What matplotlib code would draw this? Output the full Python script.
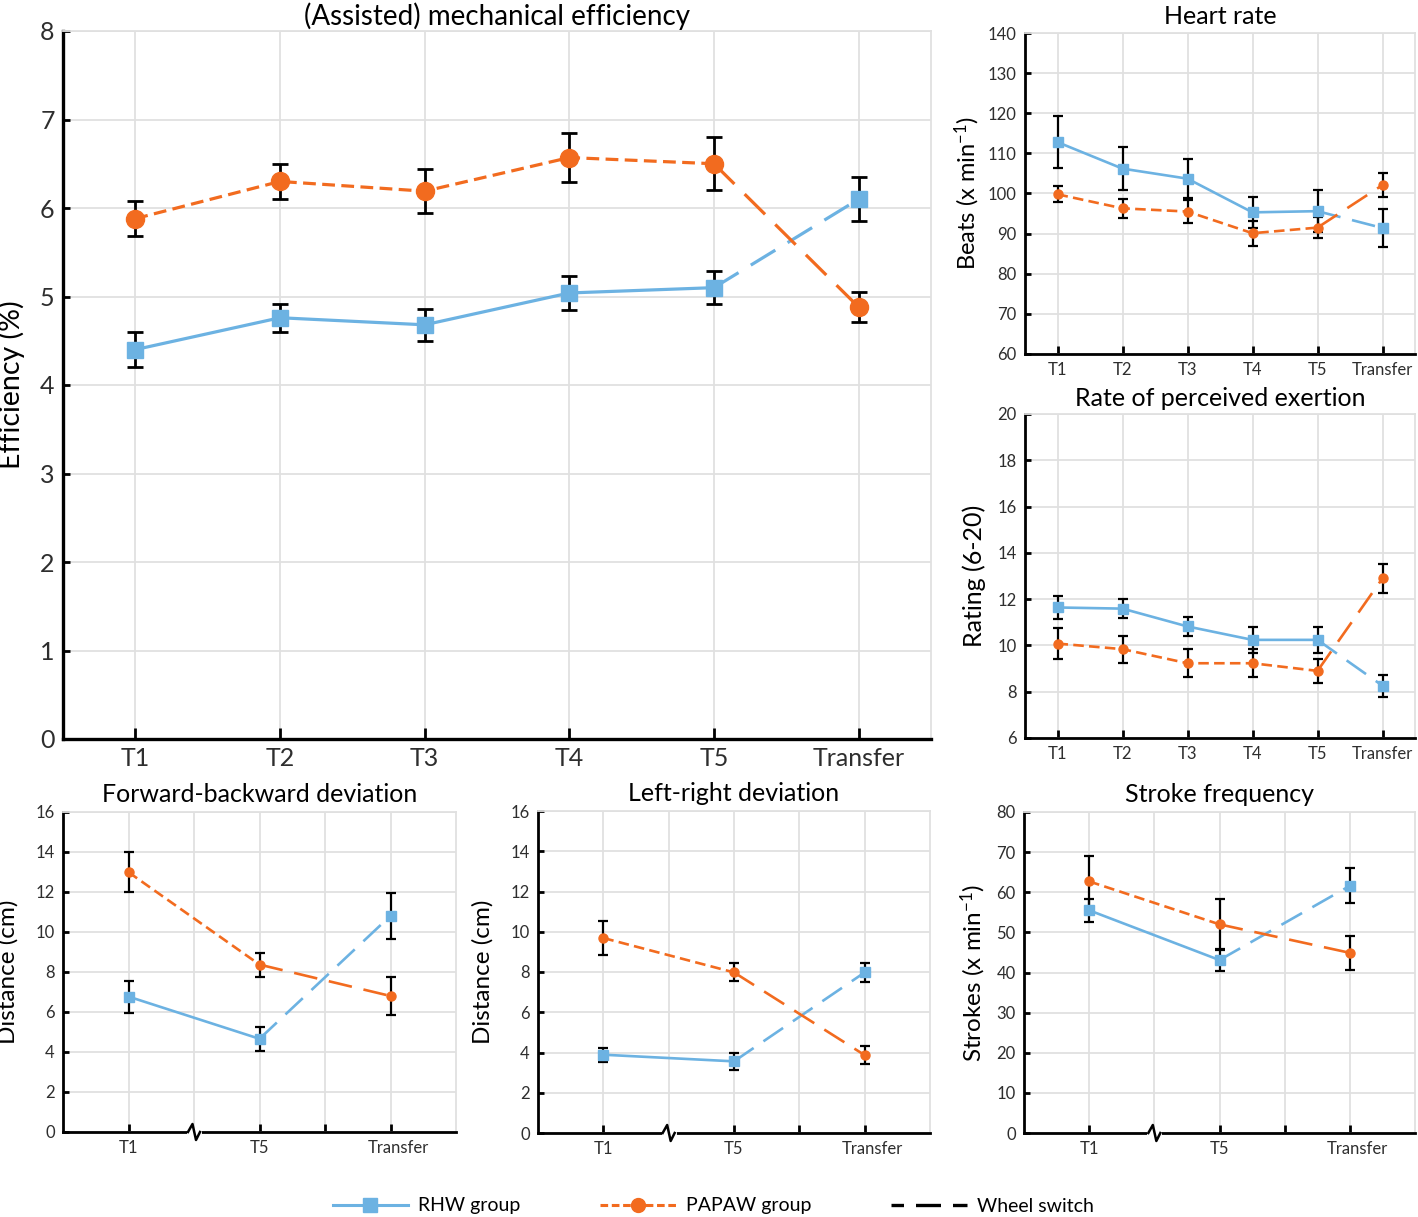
import matplotlib
matplotlib.use('Agg')
import matplotlib.pyplot as plt
import matplotlib.transforms as mtransforms
from matplotlib.lines import Line2D

plt.rcParams['font.family'] = ['Lato', 'DejaVu Sans']
plt.rcParams['mathtext.fontset'] = 'custom'
plt.rcParams['mathtext.rm'] = 'Lato'
plt.rcParams['mathtext.it'] = 'Lato:italic'

BLUE = '#6cb2e2'
ORANGE = '#f26b1f'
GRID = '#e0e0e0'
TICKCOL = '#2e2e2e'

# ---- data (mean, error) ----
sessions = ['T1', 'T2', 'T3', 'T4', 'T5', 'Transfer']
short_sessions = ['T1', 'T5', 'Transfer']

eff_rhw = [4.40, 4.76, 4.68, 5.04, 5.10, 6.10]
eff_rhw_err = [0.20, 0.16, 0.18, 0.19, 0.19, 0.25]
eff_papaw = [5.88, 6.30, 6.19, 6.57, 6.50, 4.88]
eff_papaw_err = [0.20, 0.20, 0.25, 0.28, 0.30, 0.17]

hr_rhw = [112.8, 106.2, 103.7, 95.3, 95.6, 91.4]
hr_rhw_err = [6.4, 5.4, 4.8, 3.9, 5.2, 4.7]
hr_papaw = [99.8, 96.3, 95.5, 90.1, 91.5, 102.1]
hr_papaw_err = [2.0, 2.3, 2.8, 3.1, 2.6, 2.9]

rpe_rhw = [11.64, 11.59, 10.82, 10.24, 10.24, 8.26]
rpe_rhw_err = [0.50, 0.40, 0.40, 0.55, 0.55, 0.47]
rpe_papaw = [10.08, 9.84, 9.23, 9.23, 8.90, 12.90]
rpe_papaw_err = [0.66, 0.58, 0.60, 0.60, 0.52, 0.64]

fb_rhw = [6.77, 4.66, 10.81]
fb_rhw_err = [0.80, 0.60, 1.15]
fb_papaw = [12.99, 8.37, 6.80]
fb_papaw_err = [1.00, 0.60, 0.97]

lr_rhw = [3.89, 3.56, 7.98]
lr_rhw_err = [0.35, 0.43, 0.47]
lr_papaw = [9.69, 7.98, 3.87]
lr_papaw_err = [0.83, 0.45, 0.45]

sf_rhw = [55.5, 43.1, 61.6]
sf_rhw_err = [2.9, 2.7, 4.35]
sf_papaw = [62.7, 52.0, 44.9]
sf_papaw_err = [6.3, 6.4, 4.2]

W, H = 1418, 1217
fig = plt.figure(figsize=(W / 100, H / 100), dpi=100)


def add_axes(l, t, r, b):
    return fig.add_axes([l / W, 1 - b / H, (r - l) / W, (b - t) / H])


def draw_series(ax, x, rhw, rhw_err, papaw, papaw_err, big=False):
    lw = 2.3 if big else 1.9
    ms_sq = 12 if big else 7
    ms_ci = 13 if big else 6.5
    cap = 6 if big else 3.5
    elw = 2.0 if big else 1.6
    for y, e in [(rhw, rhw_err), (papaw, papaw_err)]:
        ax.errorbar(x, y, yerr=e, fmt='none', ecolor='black', elinewidth=elw,
                    capsize=cap, capthick=elw, zorder=3, clip_on=False)
    ax.plot(x[:-1], rhw[:-1], color=BLUE, lw=lw, zorder=4)
    ax.plot(x[-2:], rhw[-2:], color=BLUE, lw=lw, dashes=(9, 4.5), zorder=4)
    ax.plot(x[:-1], papaw[:-1], color=ORANGE, lw=lw, dashes=(4, 2), zorder=4)
    ax.plot(x[-2:], papaw[-2:], color=ORANGE, lw=lw, dashes=(9, 4.5), zorder=4)
    ax.plot(x, rhw, ls='none', marker='s', ms=ms_sq, color=BLUE, zorder=5, clip_on=False)
    ax.plot(x, papaw, ls='none', marker='o', ms=ms_ci, color=ORANGE, zorder=5, clip_on=False)


def style(ax, ylim, ystep, tick_fs, big=False):
    ax.set_ylim(*ylim)
    ax.set_yticks(range(ylim[0], ylim[1] + 1, ystep))
    ax.grid(True, color=GRID, lw=1.3)
    ax.set_axisbelow(True)
    for s in ['top', 'right']:
        ax.spines[s].set_color(GRID)
        ax.spines[s].set_linewidth(1.3)
    for s in ['left', 'bottom']:
        ax.spines[s].set_linewidth(2.4 if big else 2.0)
    ax.tick_params(axis='y', direction='in', length=5 if big else 4, width=2,
                   labelsize=tick_fs, labelcolor=TICKCOL, pad=6)
    ax.tick_params(axis='x', direction='in', length=8 if big else 6, width=2,
                   labelsize=tick_fs, labelcolor=TICKCOL, pad=6)


def add_break(ax, xpos):
    pos = ax.get_position()
    xlim = ax.get_xlim()
    pxu = pos.width * W / (xlim[1] - xlim[0])
    pyu = pos.height * H
    dx = lambda p: xpos + p / pxu
    dy = lambda p: p / pyu
    tr = mtransforms.blended_transform_factory(ax.transData, ax.transAxes)
    ax.add_line(Line2D([dx(-5), dx(5)], [0, 0], color='white', lw=3.5,
                       transform=tr, clip_on=False, zorder=6))
    ax.add_line(Line2D([dx(-6), dx(-1.5), dx(2), dx(6)], [0, dy(8), dy(-8), 0],
                       color='black', lw=1.8, transform=tr, clip_on=False, zorder=7))


# ---- main panel ----
ax = add_axes(63, 31, 931, 739)
xm = list(range(len(sessions)))
draw_series(ax, xm, eff_rhw, eff_rhw_err, eff_papaw, eff_papaw_err, big=True)
ax.set_xlim(-0.5, 5.5)
ax.set_xticks(xm)
ax.set_xticklabels(sessions)
style(ax, (0, 8), 1, 18, big=True)
ax.set_ylabel('Efficiency (%)', fontsize=20.5, labelpad=11)
ax.set_title('(Assisted) mechanical efficiency', fontsize=20, pad=4)

# ---- heart rate ----
ax = add_axes(1025, 33, 1415, 354)
draw_series(ax, xm, hr_rhw, hr_rhw_err, hr_papaw, hr_papaw_err)
ax.set_xlim(-0.5, 5.5)
ax.set_xticks(xm)
ax.set_xticklabels(sessions)
style(ax, (60, 140), 10, 12)
ax.set_ylabel(r'Beats (x min$^{\mathregular{-1}}$)', fontsize=17, labelpad=4)
ax.set_title('Heart rate', fontsize=18, pad=6.5)

# ---- RPE ----
ax = add_axes(1025, 414, 1415, 738)
draw_series(ax, xm, rpe_rhw, rpe_rhw_err, rpe_papaw, rpe_papaw_err)
ax.set_xlim(-0.5, 5.5)
ax.set_xticks(xm)
ax.set_xticklabels(sessions)
style(ax, (6, 20), 2, 12)
ax.set_ylabel('Rating (6-20)', fontsize=18, labelpad=8)
ax.set_title('Rate of perceived exertion', fontsize=18, pad=5.5)

# ---- bottom panels ----
bottom = [
    ((63, 812, 456, 1132), fb_rhw, fb_rhw_err, fb_papaw, fb_papaw_err,
     (0, 16), 2, 'Distance (cm)', 'Forward-backward deviation', 12),
    ((538, 811, 930, 1133), lr_rhw, lr_rhw_err, lr_papaw, lr_papaw_err,
     (0, 16), 2, 'Distance (cm)', 'Left-right deviation', 12),
    ((1024, 812, 1415, 1133), sf_rhw, sf_rhw_err, sf_papaw, sf_papaw_err,
     (0, 80), 10, r'Strokes (x min$^{\mathregular{-1}}$)', 'Stroke frequency', 6),
]
xs = [1, 3, 5]
for box, r, re, p, pe, ylim, ystep, ylab, title, lpad in bottom:
    ax = add_axes(*box)
    draw_series(ax, xs, r, re, p, pe)
    ax.set_xlim(0, 6)
    ax.set_xticks([1, 2, 3, 4, 5])
    ax.set_xticklabels([short_sessions[0], '', short_sessions[1], '', short_sessions[2]])
    style(ax, ylim, ystep, 12)
    ax.xaxis.get_major_ticks()[1].tick1line.set_visible(False)
    lbl = ax.get_xticklabels()[4]
    lbl.set_transform(lbl.get_transform() + mtransforms.ScaledTranslation(8 / 100, 0, fig.dpi_scale_trans))
    ax.set_ylabel(ylab, fontsize=17.5, labelpad=lpad)
    ax.set_title(title, fontsize=18, pad=7.5)
    add_break(ax, 2)

# ---- legend ----
handles = [
    Line2D([], [], color=BLUE, lw=2.2, marker='s', ms=10),
    Line2D([], [], color=ORANGE, lw=2.2, dashes=(2.5, 1.2), marker='o', ms=10),
    Line2D([], [], color='black', lw=2.4, ls=(3.75, (7.5, 3.6))),
]
fig.legend(handles, ['RHW group', 'PAPAW group', 'Wheel switch'], loc='center',
           bbox_to_anchor=(713 / W, 1 - 1206 / H), ncol=3, frameon=False,
           fontsize=14, handlelength=3.9, columnspacing=4.1, handletextpad=0.5)

fig.savefig('out.png', dpi=100)
